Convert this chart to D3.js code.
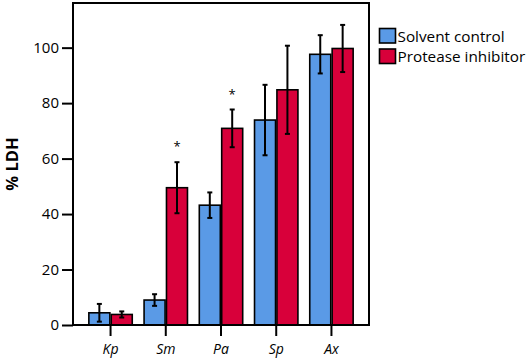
<!DOCTYPE html>
<html>
<head>
<meta charset="utf-8">
<script src="https://cdn.jsdelivr.net/npm/d3@7"></script>
<style>
  body { margin: 0; background: #fff; }
  text { font-family: "Open Sans", "Noto Sans", sans-serif; }
</style>
</head>
<body>
<div id="chart"></div>
<script>
const categories = ["Kp", "Sm", "Pa", "Sp", "Ax"];
const seriesNames = ["Solvent control", "Protease inhibitor"];
const controlMean = [4.4, 9.0, 43.2, 73.9, 97.6];
const controlErr = [3.2, 2.1, 4.6, 12.7, 6.9];
const inhibitorMean = [3.8, 49.5, 70.9, 84.8, 99.7];
const inhibitorErr = [1.1, 9.2, 6.8, 15.9, 8.5];
const significant = [false, true, true, false, false];
const yTicks = [0, 20, 40, 60, 80, 100];

const colors = ["#5a9ae6", "#d8003a"];

const width = 529, height = 359;
const margin = {left: 73, top: 3, right: 160, bottom: 34};
const plotW = width - margin.left - margin.right;
const plotH = height - margin.top - margin.bottom;

const svg = d3.select("#chart").append("svg")
  .attr("width", width)
  .attr("height", height);

const g = svg.append("g").attr("transform", `translate(${margin.left},${margin.top})`);

const x = d3.scaleBand().domain(categories).range([0, plotW]).paddingInner(0).paddingOuter(0.18);
const y = d3.scaleLinear().domain([0, 116.1]).range([plotH, 0]);

// one row per bar
const rows = [];
categories.forEach((c, i) => {
  rows.push({cat: c, s: 0, mean: controlMean[i], err: controlErr[i]});
  rows.push({cat: c, s: 1, mean: inhibitorMean[i], err: inhibitorErr[i]});
});

const barW = 21;
const barX = d => x(d.cat) + x.bandwidth() / 2 + (d.s === 0 ? -barW - 0.7 : 0.7);

g.selectAll("rect.bar")
  .data(rows)
  .join("rect")
  .attr("class", "bar")
  .attr("x", barX)
  .attr("y", d => y(d.mean))
  .attr("width", barW)
  .attr("height", d => y(0) - y(d.mean))
  .attr("fill", d => colors[d.s])
  .attr("stroke", "#000")
  .attr("stroke-width", 1.6);

// Error bars
const eb = g.selectAll("g.err").data(rows).join("g").attr("class", "err");
eb.append("line")
  .attr("x1", d => barX(d) + barW / 2).attr("x2", d => barX(d) + barW / 2)
  .attr("y1", d => y(d.mean + d.err)).attr("y2", d => y(d.mean - d.err))
  .attr("stroke", "#000").attr("stroke-width", 2);
[1, -1].forEach(sign => {
  eb.append("line")
    .attr("x1", d => barX(d) + barW / 2 - 2.5).attr("x2", d => barX(d) + barW / 2 + 2.5)
    .attr("y1", d => y(d.mean + sign * d.err)).attr("y2", d => y(d.mean + sign * d.err))
    .attr("stroke", "#000").attr("stroke-width", 2);
});

// Significance stars
g.selectAll("text.star")
  .data(rows.filter(d => d.s === 1 && significant[categories.indexOf(d.cat)]))
  .join("text")
  .attr("class", "star")
  .attr("x", d => barX(d) + barW / 2)
  .attr("y", d => y(d.mean + d.err) - 11)
  .attr("text-anchor", "middle")
  .style("font-size", "13px")
  .text("*");

// Frame
g.append("rect")
  .attr("x", 0).attr("y", 0)
  .attr("width", plotW).attr("height", plotH)
  .attr("fill", "none").attr("stroke", "#000").attr("stroke-width", 2);

// Y axis
const yAxis = g.append("g")
  .call(d3.axisLeft(y).tickValues(yTicks).tickSize(11).tickPadding(3));
yAxis.select(".domain").remove();
yAxis.selectAll("line").attr("stroke-width", 2);
yAxis.selectAll("text").style("font-size", "15px").attr("fill", "#000")
  .style("font-family", "'Open Sans', sans-serif");

// X axis
const xAxis = g.append("g")
  .attr("transform", `translate(0,${plotH})`)
  .call(d3.axisBottom(x).tickSize(11).tickPadding(8));
xAxis.select(".domain").remove();
xAxis.selectAll("line").attr("stroke-width", 2);
xAxis.selectAll("text").style("font-size", "14px").style("font-style", "italic").attr("fill", "#000")
  .style("font-family", "'Open Sans', sans-serif");

// Y axis title
svg.append("text")
  .attr("transform", `translate(18,${margin.top + plotH / 2}) rotate(-90)`)
  .attr("text-anchor", "middle")
  .style("font-size", "16.5px")
  .style("font-weight", "bold")
  .text("% LDH");

// Legend
const legend = svg.append("g").attr("transform", "translate(379,28)");
seriesNames.forEach((name, i) => {
  const row = legend.append("g").attr("transform", `translate(0,${i * 20.5})`);
  row.append("rect")
    .attr("x", 0.5).attr("y", 0.5)
    .attr("width", 16).attr("height", 14.5)
    .attr("fill", colors[i]).attr("stroke", "#000").attr("stroke-width", 1.6);
  row.append("text")
    .attr("x", 18.5).attr("y", 13.5)
    .style("font-size", "15.3px")
    .text(name);
});
</script>
</body>
</html>
